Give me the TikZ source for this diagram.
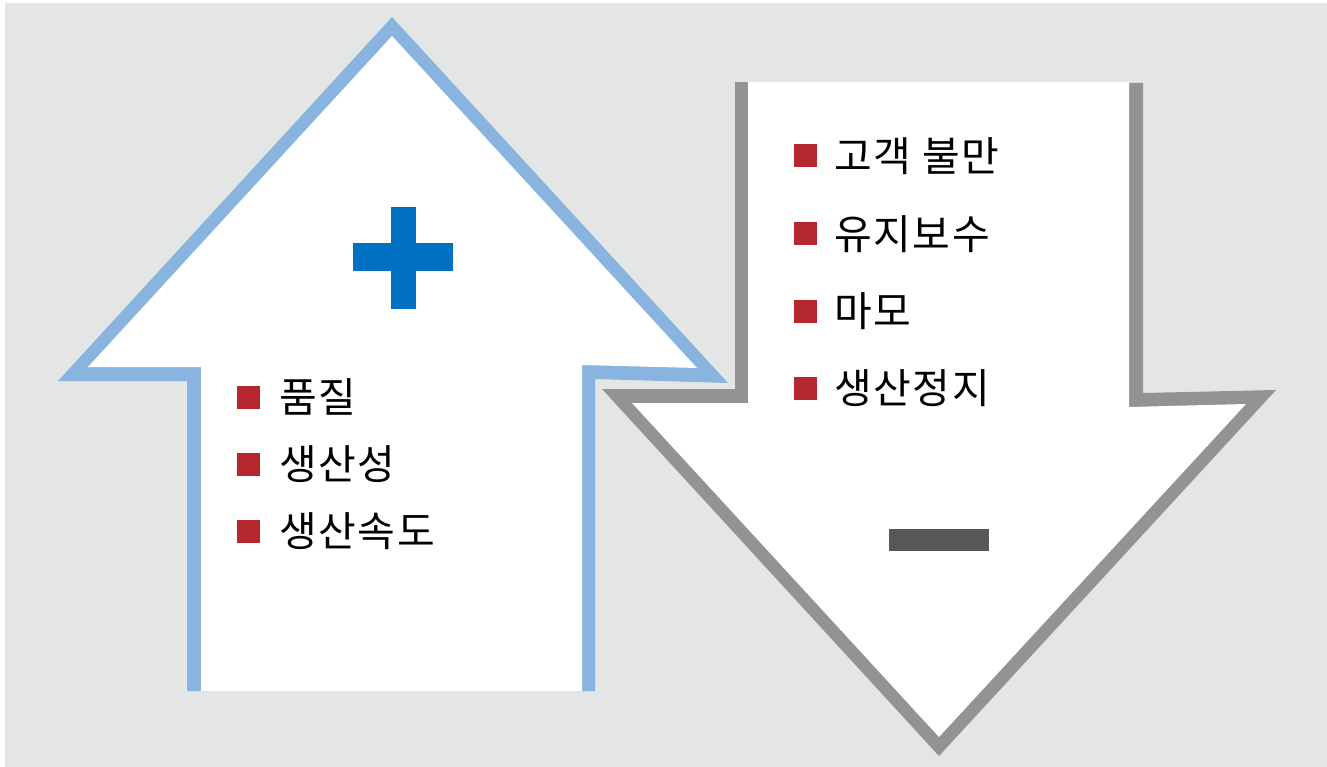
\documentclass[tikz,border=0pt]{standalone}
\usepackage{fontspec}
\newfontfamily\kr[LetterSpace=4]{Noto Sans CJK KR}
\definecolor{bgc}{HTML}{E4E6E5}
\definecolor{bluec}{HTML}{8AB4E0}
\definecolor{grayc}{HTML}{939393}
\definecolor{plusc}{HTML}{0070C0}
\definecolor{minusc}{HTML}{575757}
\definecolor{redc}{HTML}{B7282E}
\tikzset{
  bullet/.style={fill=redc, draw=none, minimum size=23pt, inner sep=0pt, outer sep=0pt},
  item/.style={anchor=west, inner sep=0pt, font=\kr\fontsize{41}{45}\selectfont, text=black},
}
\begin{document}
\begin{tikzpicture}[x=1pt,y=-1pt]
\useasboundingbox (0,0) rectangle (1327,767);
\fill[white] (0,0) rectangle (1327,767);
\fill[bgc] (5,3) rectangle (1327,767);
% up arrow
\fill[bluec] (187,691) -- (187,381) -- (58,381) -- (392,17) -- (728,383) -- (595,379) -- (595,691) -- cycle;
\fill[white] (201,691) -- (201,367) -- (88,367) -- (392,36) -- (697,368) -- (582,365) -- (582,691) -- cycle;
% down arrow
\fill[grayc] (735,82) -- (735,389) -- (602,389) -- (939,756) -- (1276,390) -- (1143,393) -- (1143,83) -- cycle;
\fill[white] (748,82) -- (748,403) -- (632,403) -- (939,737) -- (1246,404) -- (1129,407) -- (1129,82) -- cycle;
% plus and minus
\fill[plusc] (353,243) rectangle (453,271);
\fill[plusc] (391,207) rectangle (416,309);
\fill[minusc] (889,529) rectangle (989,551);
% left list
\node[bullet] (b1) at (248,397) {};
\node[item] (t1) at (279,397) {품질};
\node[bullet] (b2) at (248,464) {};
\node[item] (t2) at (279,464) {생산성};
\node[bullet] (b3) at (248,531) {};
\node[item] (t3) at (279,531) {생산속도};
% right list
\node[bullet] (r1) at (805,156) {};
\node[item] (s1) at (834,156) {고객 불만};
\node[bullet] (r2) at (805,234) {};
\node[item] (s2) at (834,234) {유지보수};
\node[bullet] (r3) at (805,311) {};
\node[item] (s3) at (834,311) {마모};
\node[bullet] (r4) at (805,388) {};
\node[item] (s4) at (834,388) {생산정지};
\end{tikzpicture}
\end{document}
